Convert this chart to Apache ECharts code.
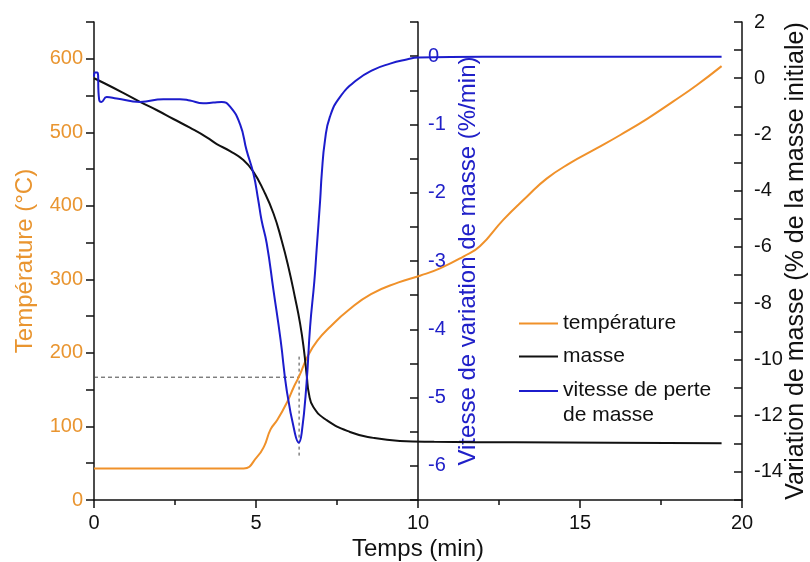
<!DOCTYPE html>
<html><head><meta charset="utf-8">
<script src="https://cdn.jsdelivr.net/npm/echarts@6/dist/echarts.min.js"></script>
<style>html,body{margin:0;padding:0;background:#fff}#c{width:810px;height:562px}</style>
</head><body><div id="c"></div>
<script>
// Temperature (°C) vs time (min)
const tempTime   = [0, 1, 2, 3, 4, 4.62, 5.04, 5.25, 5.45, 5.66, 5.96, 6.17, 6.33, 6.6, 6.9, 7.3, 7.85, 8.55, 9.4, 10.06, 10.68, 11.4, 11.91, 12.63, 13.35, 13.97, 14.69, 15.51, 16.23, 17.06, 17.88, 18.6, 19.37];
const tempValues = [43, 43, 43, 43, 43, 43, 59, 73, 96, 109, 133, 154, 168, 196, 217, 236, 258, 280, 296, 305, 315, 331, 345, 381, 412, 437, 458, 478, 496, 518, 542, 564, 590];
// Mass variation (% of initial mass)
const massTime   = [0, 0.29, 0.9, 1.42, 1.93, 2.45, 2.96, 3.48, 3.79, 4.2, 4.61, 4.92, 5.23, 5.54, 5.79, 6.0, 6.2, 6.36, 6.48, 6.57, 6.63, 6.77, 7.18, 7.9, 8.62, 9.44, 10.5, 13, 16, 19.37];
const massValues = [0, -0.16, -0.52, -0.84, -1.13, -1.45, -1.76, -2.1, -2.34, -2.59, -2.91, -3.33, -3.98, -4.81, -5.76, -6.71, -7.78, -8.72, -9.67, -10.62, -11.2, -11.69, -12.16, -12.58, -12.79, -12.9, -12.93, -12.95, -12.96, -12.98];
// Mass variation rate (%/min)
const rateTime   = [0, 0.03, 0.1, 0.16, 0.23, 0.39, 0.7, 1.42, 2.14, 2.65, 2.96, 3.37, 3.68, 3.94, 4.2, 4.51, 4.71, 4.92, 5.07, 5.17, 5.33, 5.54, 5.76, 5.95, 6.2, 6.32, 6.41, 6.56, 6.67, 6.8, 6.87, 6.98, 7.03, 7.13, 7.28, 7.59, 8.11, 8.62, 9.14, 9.65, 10, 12, 19.37];
const rateValues = [-0.3, -0.24, -0.24, -0.64, -0.67, -0.6, -0.62, -0.67, -0.63, -0.63, -0.65, -0.69, -0.68, -0.67, -0.74, -1.0, -1.38, -1.72, -2.11, -2.4, -2.74, -3.43, -4.16, -4.9, -5.52, -5.66, -5.52, -4.79, -3.96, -3.3, -2.84, -2.11, -1.72, -1.23, -0.89, -0.6, -0.35, -0.2, -0.11, -0.05, -0.02, -0.01, -0.01];
// Reference dashed guides (temperature axis)
const guideTime = 6.33;
const guideTemp = 167;
const guideVertTemps = [195, 57];

const seriesNames = ['température', 'masse', 'vitesse de perte de masse'];
const xTicks = {min: 0, max: 20, step: 5};

const ORANGE = '#F0912A', ORANGE_T = '#E99530', BLUE = '#1C1CCC', BLUE_T = '#2020C8', BLACK = '#111';
const FONT = 'Liberation Sans, Arial, sans-serif';
const zip = (a, b) => a.map((v, i) => [v, b[i]]);

const chart = echarts.init(document.getElementById('c'), null, {renderer: 'canvas'});
chart.setOption({
  animation: false,
  backgroundColor: '#fff',
  textStyle: {fontFamily: FONT},
  grid: {left: 94, right: 68, top: 22, bottom: 62, containLabel: false, outerBoundsMode: 'none'},
  legend: [{
    orient: 'vertical', left: 519, top: 311, padding: 0, itemGap: 8,
    itemWidth: 39, itemHeight: 2, icon: 'rect', selectedMode: false,
    textStyle: {fontSize: 21, lineHeight: 25, color: '#111', fontFamily: FONT},
    data: [seriesNames[0], seriesNames[1]]
  }, {
    orient: 'vertical', left: 519, top: 378, padding: 0,
    itemWidth: 39, itemHeight: 26, selectedMode: false, symbolKeepAspect: false,
    icon: 'path://M0,0 L39,0 L39,2 L0,2 Z M0,26 L0,26',
    textStyle: {fontSize: 21, lineHeight: 25, color: '#111', fontFamily: FONT},
    formatter: () => 'vitesse de perte\nde masse',
    data: [seriesNames[2]]
  }],
  xAxis: {
    type: 'value', min: xTicks.min, max: xTicks.max, interval: xTicks.step,
    name: 'Temps (min)', nameLocation: 'middle', nameGap: 49, nameMoveOverlap: false,
    nameTextStyle: {fontSize: 24, color: '#111', verticalAlign: 'middle', fontFamily: FONT},
    axisLine: {onZero: false, lineStyle: {color: BLACK, width: 1.5}},
    axisTick: {inside: false, length: 8, lineStyle: {color: BLACK, width: 1.5}},
    minorTick: {show: true, splitNumber: 2, length: 5, lineStyle: {color: BLACK, width: 1.5}},
    axisLabel: {fontSize: 20, color: '#111', margin: 13, fontFamily: FONT},
    splitLine: {show: false}
  },
  yAxis: [{
    type: 'value', position: 'left', min: 0, max: 650, interval: 50,
    name: 'Température (°C)', nameLocation: 'middle', nameGap: 69, nameRotate: 90, nameMoveOverlap: false,
    nameTextStyle: {fontSize: 24, color: ORANGE_T, verticalAlign: 'middle', fontFamily: FONT},
    axisLine: {show: true, onZero: false, lineStyle: {color: BLACK, width: 1.5}},
    axisTick: {show: true, inside: false, length: 8, lineStyle: {color: BLACK, width: 1.5}},
    axisLabel: {fontSize: 20, color: ORANGE_T, margin: 11, fontFamily: FONT,
      formatter: v => (v % 100 === 0 ? String(v) : '')},
    splitLine: {show: false}
  }, {
    type: 'value', position: 'left', offset: -324, min: -6.5, max: 0.5, interval: 0.5,
    name: 'Vitesse de variation de masse (%/min)', nameLocation: 'middle', nameGap: -50, nameRotate: 90, nameMoveOverlap: false,
    nameTextStyle: {fontSize: 24, color: BLUE_T, verticalAlign: 'middle', fontFamily: FONT},
    axisLine: {show: true, onZero: false, lineStyle: {color: BLACK, width: 1.5}},
    axisTick: {show: true, inside: false, length: 8, lineStyle: {color: BLACK, width: 1.5}},
    axisLabel: {inside: true, fontSize: 20, color: BLUE_T, margin: 10, fontFamily: FONT,
      formatter: v => (Number.isInteger(v) ? String(v) : '')},
    splitLine: {show: false}
  }, {
    type: 'value', position: 'right', min: -15, max: 2, interval: 1,
    name: 'Variation de masse (% de la masse initiale)', nameLocation: 'middle', nameGap: 54, nameRotate: 90, nameMoveOverlap: false,
    nameTextStyle: {fontSize: 25, color: '#111', verticalAlign: 'middle', fontFamily: FONT},
    axisLine: {show: true, onZero: false, lineStyle: {color: BLACK, width: 1.5}},
    axisTick: {show: true, inside: true, length: 8, lineStyle: {color: BLACK, width: 1.5}},
    axisLabel: {fontSize: 20, color: '#111', margin: 12, fontFamily: FONT,
      formatter: v => (v % 2 === 0 ? String(v) : '')},
    splitLine: {show: false}
  }],
  series: [{
    name: 'guideH', type: 'line', yAxisIndex: 0, symbol: 'none', silent: true, z: 1,
    data: [[0, guideTemp], [guideTime, guideTemp]],
    lineStyle: {color: '#444', width: 1, type: [4, 3]}
  }, {
    name: 'guideV', type: 'line', yAxisIndex: 0, symbol: 'none', silent: true, z: 1,
    data: [[guideTime, guideVertTemps[0]], [guideTime, guideVertTemps[1]]],
    lineStyle: {color: '#444', width: 1, type: [3, 3]}
  }, {
    name: seriesNames[0], type: 'line', yAxisIndex: 0, symbol: 'none', smooth: 0.5, z: 2,
    data: zip(tempTime, tempValues), color: ORANGE, lineStyle: {color: ORANGE, width: 2}
  }, {
    name: seriesNames[1], type: 'line', yAxisIndex: 2, symbol: 'none', smooth: 0.5, z: 3,
    data: zip(massTime, massValues), color: BLACK, lineStyle: {color: BLACK, width: 2}
  }, {
    name: seriesNames[2], type: 'line', yAxisIndex: 1, symbol: 'none', smooth: 0.5, z: 4,
    data: zip(rateTime, rateValues), color: BLUE, lineStyle: {color: BLUE, width: 2}
  }]
});
</script>
</body></html>
